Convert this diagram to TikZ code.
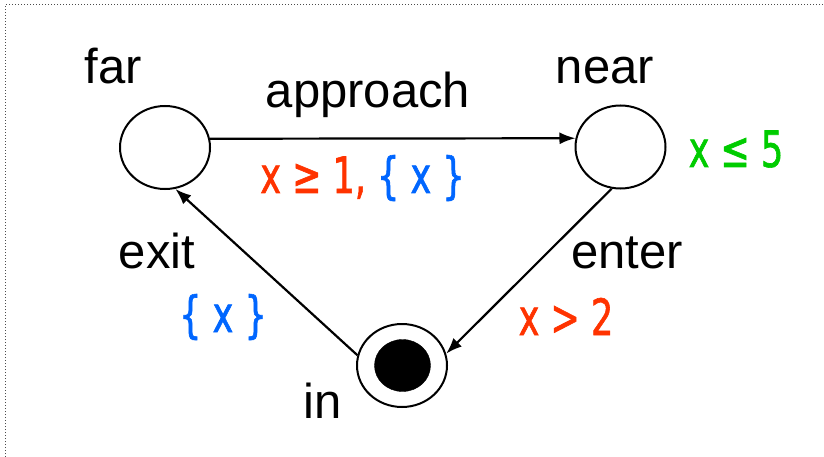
\documentclass[tikz,border=0pt]{standalone}
\usepackage{fontspec}
\setmainfont{Liberation Sans}
\newfontfamily\cfont[FakeStretch=0.70,FakeBold=1.2]{DejaVu Sans}
\usetikzlibrary{shapes.geometric,arrows.meta}
\definecolor{cred}{RGB}{255,51,0}
\definecolor{cblue}{RGB}{0,102,255}
\definecolor{cgreen}{RGB}{0,204,0}
\begin{document}
\begin{tikzpicture}[x=1pt,y=-1pt,
  state/.style={draw,ellipse,line width=2pt,minimum width=90pt,minimum height=83pt,inner sep=0pt},
  lbl/.style={anchor=base,inner sep=0pt,font=\fontsize{49}{53}\selectfont},
  guard/.style={anchor=base,inner sep=0pt,font=\cfont\fontsize{50}{54}\selectfont},
  tr/.style={line width=2.2pt,-{Latex[length=16pt,width=12pt]}},
  frame/.style={line width=1pt,dash pattern=on 1pt off 2pt,black!70}]
\useasboundingbox (0,0) rectangle (824,457);
\draw[frame] (5,457) -- (5,5) -- (824,5);
% states
\node[state] (far) at (165,147.5) {};
\node[state] (near) at (620.5,147) {};
\node[state] (in) at (402,365.5) {};
\node[draw,ellipse,fill=black,minimum width=56pt,minimum height=52pt,inner sep=0pt] (indot) at (402.5,365.5) {};
% state labels
\node[lbl] (farl) at (113.5,84) {far};
\node[lbl] (nearl) at (605,84) {near};
\node[lbl] (inl) at (323,418) {in};
\node[guard,text=cgreen] (inv) at (736,167) {x ≤ 5};
% transitions
\draw[tr] (far.11) -- (near.169);
\draw[tr] (near.258) -- (in.15);
\draw[tr] (in.167) -- (far.284);
% transition labels
\node[lbl] (appl) at (368,108) {approach};
\node[guard] (appg) at (362.5,193) {\textcolor{cred}{x ≥ 1,} \textcolor{cblue}{\{ x \}}};
\node[lbl] (entl) at (627,268) {enter};
\node[guard,text=cred] (entg) at (566,335) {x > 2};
\node[lbl] (exl) at (157,268) {exit};
\node[guard,text=cblue] (exg) at (223,332) {\{ x \}};
\end{tikzpicture}
\end{document}
